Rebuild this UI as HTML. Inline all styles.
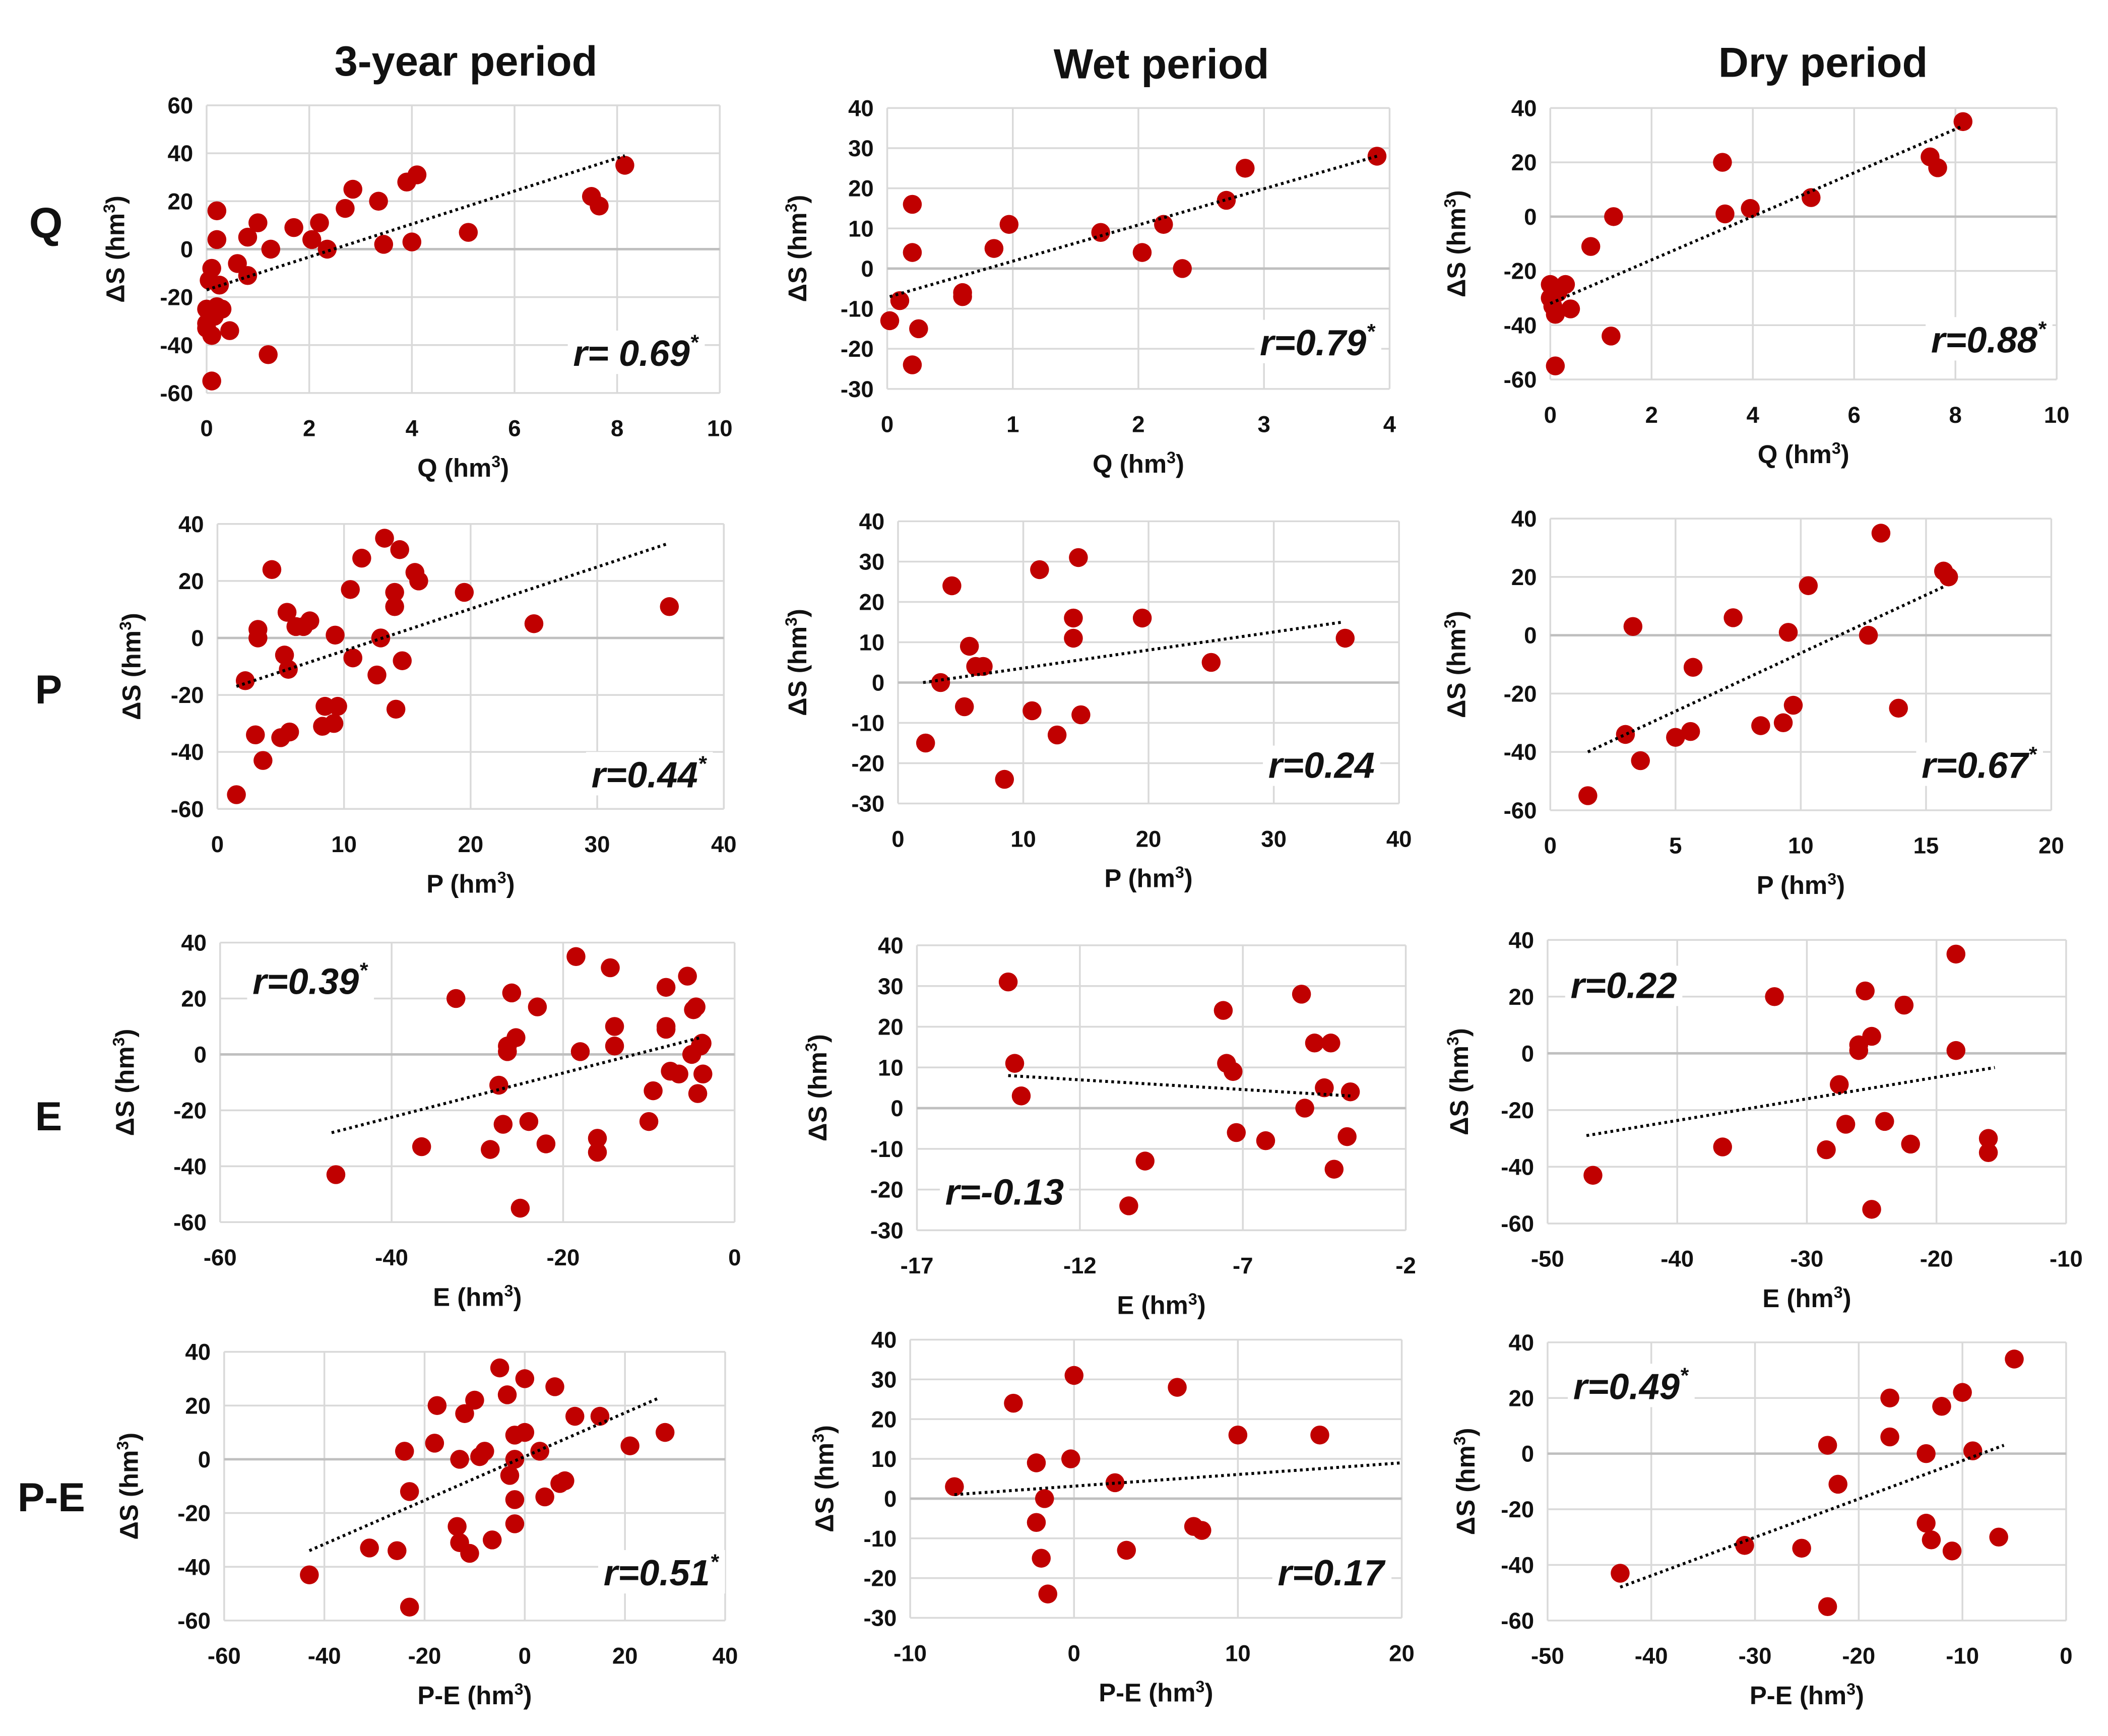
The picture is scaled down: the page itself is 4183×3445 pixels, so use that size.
<!DOCTYPE html>
<html><head><meta charset="utf-8"><style>
html,body{margin:0;padding:0;background:#fff;}
svg{display:block;}
text{font-family:"Liberation Sans Narrow","Liberation Sans",sans-serif;font-weight:bold;fill:#111;}
</style></head><body>
<svg id="fig" width="4183" height="3445" viewBox="0 0 1561 1285.5" preserveAspectRatio="none" xmlns="http://www.w3.org/2000/svg">
<rect width="1561" height="1286" fill="#fff"/>
<text x="345" y="56" font-size="31" text-anchor="middle">3-year period</text>
<text x="860" y="58" font-size="31" text-anchor="middle">Wet period</text>
<text x="1350" y="57" font-size="31" text-anchor="middle">Dry period</text>
<text x="34" y="176" font-size="32" text-anchor="middle">Q</text>
<text x="36" y="521" font-size="30" text-anchor="middle">P</text>
<text x="36" y="837" font-size="30" text-anchor="middle">E</text>
<text x="38" y="1119" font-size="30" text-anchor="middle">P-E</text>
</svg>
<script>
// Panel data
const aX=[0.05,0.1,0.2,0.2,0.25,0,0,0,0.1,0.15,0.3,0.2,0.45,0.1,1.2,0.6,0.8,0.8,1.0,1.25,1.7,2.05,2.2,2.35,2.7,2.85,3.35,3.45,3.9,4.1,4.0,5.1,7.5,7.65,8.15];
const aY=[-13,-8,16,4,-15,-25,-31,-33,-36,-28,-25,-24,-34,-55,-44,-6,-11,5,11,0,9,4,11,0,17,25,20,2,28,31,3,7,22,18,35];
const aTrend=[[0,-17],[8.15,39]];
const bX=[0.02,0.1,0.2,0.2,0.25,0.2,0.6,0.6,0.85,0.97,1.7,2.03,2.2,2.35,2.7,2.85,3.9];
const bY=[-13,-8,16,4,-15,-24,-6,-7,5,11,9,4,11,0,17,25,28];
const bTrend=[[0.02,-7],[3.9,28]];
const cX=[0,0,0.05,0.1,0.15,0.3,0.4,0.1,0.8,1.25,1.2,3.4,3.45,3.95,5.15,7.5,7.65,8.15];
const cY=[-25,-30,-33,-36,-28,-25,-34,-55,-11,0,-44,20,1,3,7,22,18,35];
const cTrend=[[0,-32],[8.1,33]];
const dX=[1.5,2.2,3,3.2,3.2,3.6,4.3,5,5.3,5.5,5.6,5.7,6.2,6.8,7.3,8.3,8.5,9.2,9.3,9.5,10.5,10.7,11.4,12.6,12.9,13.2,14,14,14.1,14.4,14.6,15.6,15.9,19.5,25,35.7];
const dY=[-55,-15,-34,3,0,-43,24,-35,-6,9,-11,-33,4,4,6,-31,-24,-30,1,-24,17,-7,28,-13,0,35,16,11,-25,31,-8,23,20,16,5,11];
const dTrend=[[1.5,-17],[35.5,33]];
const eX=[2.2,3.4,4.3,5.3,5.7,6.2,6.8,8.5,10.7,11.3,12.7,14,14,14.4,14.6,19.5,25,35.7];
const eY=[-15,0,24,-6,9,4,4,-24,-7,28,-13,16,11,31,-8,16,5,11];
const eTrend=[[2,0],[35.5,15]];
const fX=[1.5,3,3.3,3.6,5,5.6,5.7,7.3,8.4,9.3,9.5,9.7,10.3,12.7,13.2,13.9,15.7,15.9];
const fY=[-55,-34,3,-43,-35,-33,-11,6,-31,-30,1,-24,17,0,35,-25,22,20];
const fTrend=[[1.5,-40],[15.8,17]];
const gX=[-46.5,-36.5,-32.5,-28.5,-27.5,-27,-26.5,-26.5,-26,-25.5,-25,-24,-23,-22,-18.5,-18,-16,-16,-14.5,-14,-14,-10,-9.5,-8,-8,-8,-7.5,-6.5,-5.5,-5,-4.8,-4.5,-4.3,-3.8,-3.7,-4];
const gY=[-43,-33,20,-34,-11,-25,3,1,22,6,-55,-24,17,-32,35,1,-30,-35,31,10,3,-24,-13,24,10,9,-6,-7,28,0,16,17,-14,4,-7,3];
const gTrend=[[-47,-28],[-4,6]];
const hX=[-14.2,-14,-13.8,-10,-10.5,-7.6,-7.5,-7.3,-7.2,-6.3,-5.2,-5.1,-4.8,-4.5,-4.3,-4.2,-3.8,-3.7];
const hY=[31,11,3,-13,-24,24,11,9,-6,-8,28,0,16,5,16,-15,-7,4];
const hTrend=[[-14.2,8],[-3.7,3]];
const iX=[-46.5,-36.5,-32.5,-28.5,-27.5,-27,-26,-26,-25.5,-25,-25,-24,-22.5,-22,-18.5,-18.5,-16,-16];
const iY=[-43,-33,20,-34,-11,-25,3,1,22,6,-55,-24,17,-32,35,1,-30,-35];
const iTrend=[[-47,-29],[-15.5,-5]];
const jX=[-43,-31,-25.5,-24,-23,-23,-18,-17.5,-13.5,-13,-13,-12,-11,-10,-9,-8,-6.5,-5,-3.5,-3,-2,-2,-2,-2,0,0,3,4,6,7,8,10,15,21,28];
const jY=[-43,-33,-34,3,-12,-55,6,20,-25,-31,0,17,-35,22,1,3,-30,34,24,-6,9,-15,-24,0,10,30,3,-14,27,-9,-8,16,16,5,10];
const jTrend=[[-43,-34],[27,23]];
const kX=[-7.3,-3.7,-2.3,-2.3,-2,-1.8,-1.6,-0.2,0,2.5,3.2,6.3,7.3,7.8,10,15];
const kY=[3,24,9,-6,-15,0,-24,10,31,4,-13,28,-7,-8,16,16];
const kTrend=[[-7.3,1],[20,9]];
const lX=[-43,-31,-25.5,-23,-23,-22,-17,-17,-13.5,-13.5,-13,-12,-11,-10,-9,-6.5,-5];
const lY=[-43,-33,-34,3,-55,-11,6,20,-25,0,-31,17,-35,22,1,-30,34];
const lTrend=[[-43,-48],[-6,3]];

// Tick arrays
const ticksQ3=[0,2,4,6,8,10], ticksQW=[0,1,2,3,4], ticksP40=[0,10,20,30,40], ticksP20=[0,5,10,15,20];
const ticksE3=[-60,-40,-20,0], ticksEW=[-17,-12,-7,-2], ticksED=[-50,-40,-30,-20,-10];
const ticksPE3=[-60,-40,-20,0,20,40], ticksPEW=[-10,0,10,20], ticksPED=[-50,-40,-30,-20,-10,0];
const yT60=[-60,-40,-20,0,20,40,60], yT40=[-60,-40,-20,0,20,40], yT30=[-30,-20,-10,0,10,20,30,40];

const svg=document.getElementById('fig');
const NS='http://www.w3.org/2000/svg';
function mk(tag,attrs,parent){const e=document.createElementNS(NS,tag);for(const k in attrs)e.setAttribute(k,attrs[k]);(parent||svg).appendChild(e);return e;}

function panel(p){
  const g=mk('g',{});
  
  
  const xmin=p.xt[0],xmax=p.xt[p.xt.length-1],ymin=p.yt[0],ymax=p.yt[p.yt.length-1];
  const sx=v=>p.x0+(v-xmin)/(xmax-xmin)*(p.x1-p.x0);
  const sy=v=>p.y1+(v-ymin)/(ymax-ymin)*(p.y0-p.y1);
  p.xt.forEach(t=>{mk('line',{x1:sx(t),x2:sx(t),y1:p.y0,y2:p.y1,stroke:'#d9d9d9','stroke-width':1.3},g);});
  p.yt.forEach(t=>{mk('line',{x1:p.x0,x2:p.x1,y1:sy(t),y2:sy(t),stroke:(t===0?'#bfbfbf':'#d9d9d9'),'stroke-width':(t===0?1.8:1.3)},g);});
  p.xt.forEach(t=>{const e=mk('text',{x:sx(t),y:p.y1+32,'font-size':17,'text-anchor':'middle'},g);e.textContent=t;
    
    });
  p.yt.forEach(t=>{const e=mk('text',{x:p.x0-10,y:sy(t)+6,'font-size':17,'text-anchor':'end'},g);e.textContent=t;
    
    });
  const xt=mk('text',{x:(p.x0+p.x1)/2,y:p.y1+62,'font-size':19,'text-anchor':'middle'},g);
  xt.innerHTML=p.xlab+' (hm<tspan font-size="12" dy="-7">3</tspan><tspan dy="7">)</tspan>';
  
  
  const yc=(p.y0+p.y1)/2;
  const yt=mk('text',{x:p.yx,y:yc,'font-size':19,'text-anchor':'middle',transform:`rotate(-90 ${p.yx} ${yc})`},g);
  yt.innerHTML='ΔS (hm<tspan font-size="12" dy="-7">3</tspan><tspan dy="7">)</tspan>';
  
  
  // r label with white bg
  const rt=mk('text',{x:p.rx,y:p.ry,'font-size':27,'font-style':'italic','text-anchor':p.ra},g);
  rt.innerHTML=p.r+(p.star?'<tspan font-size="16" dy="-12">*</tspan>':'');
  
  
  const bb=rt.getBBox();
  const bg=mk('rect',{x:bb.x-4,y:bb.y,width:bb.width+8,height:bb.height,fill:'#fff'},g);
  g.insertBefore(bg,rt);
  p.xs.forEach((v,i)=>{const c=mk('circle',{cx:sx(v),cy:sy(p.ys[i]),r:7,fill:'#c00000'},g);
    
    });
  const tl=mk('line',{x1:sx(p.tr[0][0]),y1:sy(p.tr[0][1]),x2:sx(p.tr[1][0]),y2:sy(p.tr[1][1]),stroke:'#000','stroke-width':2.2,'stroke-dasharray':'2 2.5'},g);
  
  
}

panel({name:'panel-q-3year',x0:153,x1:533,y0:78,y1:291,xt:ticksQ3,yt:yT60,xs:aX,ys:aY,tr:aTrend,xlab:'Q',yx:92,r:'r= 0.69',star:1,rx:517,ry:271,ra:'end'});
panel({name:'panel-q-wet',x0:657,x1:1029,y0:80,y1:288,xt:ticksQW,yt:yT30,xs:bX,ys:bY,tr:bTrend,xlab:'Q',yx:597,r:'r=0.79',star:1,rx:1018,ry:263,ra:'end'});
panel({name:'panel-q-dry',x0:1148,x1:1523,y0:80,y1:281,xt:ticksQ3,yt:yT40,xs:cX,ys:cY,tr:cTrend,xlab:'Q',yx:1085,r:'r=0.88',star:1,rx:1515,ry:261,ra:'end'});
panel({name:'panel-p-3year',x0:161,x1:536,y0:388,y1:599,xt:ticksP40,yt:yT40,xs:dX,ys:dY,tr:dTrend,xlab:'P',yx:104,r:'r=0.44',star:1,rx:523,ry:583,ra:'end'});
panel({name:'panel-p-wet',x0:665,x1:1036,y0:386,y1:595,xt:ticksP40,yt:yT30,xs:eX,ys:eY,tr:eTrend,xlab:'P',yx:597,r:'r=0.24',star:0,rx:1018,ry:576,ra:'end'});
panel({name:'panel-p-dry',x0:1148,x1:1519,y0:384,y1:600,xt:ticksP20,yt:yT40,xs:fX,ys:fY,tr:fTrend,xlab:'P',yx:1085,r:'r=0.67',star:1,rx:1508,ry:576,ra:'end'});
panel({name:'panel-e-3year',x0:163,x1:544,y0:698,y1:905,xt:ticksE3,yt:yT40,xs:gX,ys:gY,tr:gTrend,xlab:'E',yx:99,r:'r=0.39',star:1,rx:187,ry:736,ra:'start'});
panel({name:'panel-e-wet',x0:679,x1:1041,y0:700,y1:911,xt:ticksEW,yt:yT30,xs:hX,ys:hY,tr:hTrend,xlab:'E',yx:612,r:'r=-0.13',star:0,rx:700,ry:892,ra:'start'});
panel({name:'panel-e-dry',x0:1146,x1:1530,y0:696,y1:906,xt:ticksED,yt:yT40,xs:iX,ys:iY,tr:iTrend,xlab:'E',yx:1087,r:'r=0.22',star:0,rx:1163,ry:739,ra:'start'});
panel({name:'panel-pe-3year',x0:166,x1:537,y0:1001,y1:1200,xt:ticksPE3,yt:yT40,xs:jX,ys:jY,tr:jTrend,xlab:'P-E',yx:102,r:'r=0.51',star:1,rx:532,ry:1174,ra:'end'});
panel({name:'panel-pe-wet',x0:674,x1:1038,y0:992,y1:1198,xt:ticksPEW,yt:yT30,xs:kX,ys:kY,tr:kTrend,xlab:'P-E',yx:617,r:'r=0.17',star:0,rx:1025,ry:1174,ra:'end'});
panel({name:'panel-pe-dry',x0:1146,x1:1530,y0:994,y1:1200,xt:ticksPED,yt:yT40,xs:lX,ys:lY,tr:lTrend,xlab:'P-E',yx:1092,r:'r=0.49',star:1,rx:1165,ry:1036,ra:'start'});
</script>
</body></html>
